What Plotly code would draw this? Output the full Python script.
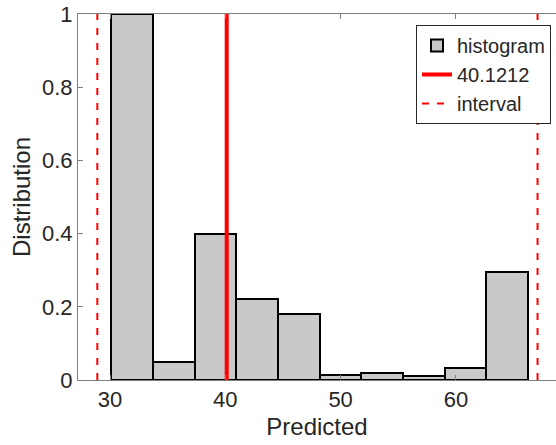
import numpy as np
import plotly.graph_objects as go

# Histogram of predicted values (normalised so the tallest bin is 1)
bin_edges = [30.09, 33.71, 37.33, 40.94, 44.56, 48.18, 51.80, 55.42, 59.03, 62.65, 66.27]
bin_heights = [1.0, 0.050, 0.398, 0.222, 0.180, 0.014, 0.019, 0.010, 0.033, 0.296]

# Point estimate and interval bounds
estimate = 40.1212
estimate_label = "40.1212"
interval = [28.90, 67.08]

x_range = [27.225, 68.68]
y_range = [0, 1]
x_ticks = [30, 40, 50, 60]
y_ticks = [0, 0.2, 0.4, 0.6, 0.8, 1]
y_tick_text = ["0", "0.2", "0.4", "0.6", "0.8", "1"]

edges = np.array(bin_edges)
centers = (edges[:-1] + edges[1:]) / 2
widths = np.diff(edges)

FONT = "Liberation Sans, Arial, Helvetica, sans-serif"
TEXT = "#262626"
AXIS = "#808080"

fig = go.Figure()

fig.add_trace(go.Bar(
    x=centers, y=bin_heights, width=widths,
    name="histogram",
    marker=dict(color="#c9c9c9", line=dict(color="black", width=2)),
))

fig.add_trace(go.Scatter(
    x=[estimate, estimate], y=y_range,
    mode="lines", name=estimate_label,
    line=dict(color="#ff0000", width=4),
))

fig.add_trace(go.Scatter(
    x=[interval[0], interval[0], None, interval[1], interval[1]],
    y=[y_range[0], y_range[1], None, y_range[0], y_range[1]],
    mode="lines", name="interval",
    line=dict(color="#ff0000", width=2, dash="7px,8px"),
))

fig.update_layout(
    width=556, height=445,
    margin=dict(l=78, r=0, t=14, b=65),
    paper_bgcolor="white", plot_bgcolor="white",
    font=dict(family=FONT, color=TEXT, size=22),
    showlegend=True,
    bargap=0,
    legend=dict(
        x=0.9895, y=0.970, xanchor="right", yanchor="top",
        bgcolor="white", bordercolor=TEXT, borderwidth=1,
        font=dict(size=20, color=TEXT),
        tracegroupgap=0, itemwidth=30,
    ),
)

fig.update_xaxes(
    range=x_range, tickvals=x_ticks,
    ticks="inside", ticklen=5, tickcolor=AXIS,
    showline=True, linecolor=AXIS, linewidth=1, mirror="ticks",
    showgrid=False, zeroline=False,
    tickfont=dict(size=22, color=TEXT),
    title=dict(text="Predicted", font=dict(size=24, color=TEXT), standoff=6),
)

fig.update_yaxes(
    range=y_range, tickvals=y_ticks, ticktext=y_tick_text,
    ticks="inside", ticklen=5, tickcolor=AXIS,
    showline=True, linecolor=AXIS, linewidth=1, mirror=False,
    showgrid=False, zeroline=False,
    tickfont=dict(size=22, color=TEXT),
    title=dict(text="Distribution", font=dict(size=24, color=TEXT), standoff=4),
)

fig.write_html("out.html")
